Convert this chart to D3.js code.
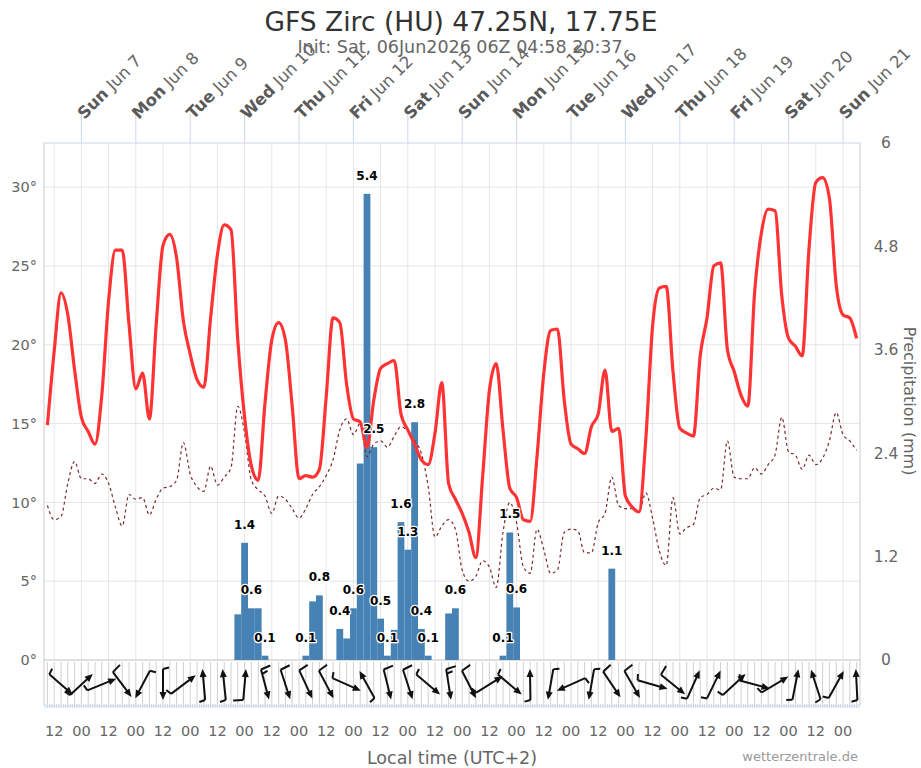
<!DOCTYPE html>
<meta charset="utf-8">
<style>
    body { margin: 0; background: #fff; }
    text { font-family: "DejaVu Sans", sans-serif; }
</style>
<body>
<script src="https://cdn.jsdelivr.net/npm/d3@7"></script>
<script>
    // first forecast step, local time (UTC+2) stored as UTC so the browser zone does not matter
    const firstStep = Date.UTC(2026, 5, 6, 9)
    const stepHours = 3

    // 2 m temperature (°C), every 3 h
    const temperature = [
        14.9, 19.6, 23.3, 21.9, 18.4, 15.4, 14.5, 13.7, 16.8, 22.8,
        26.0, 26.0, 21.3, 17.2, 18.2, 15.3, 21.3, 26.3, 27.0, 25.5,
        21.5, 19.4, 17.8, 17.3, 21.7, 25.7, 27.6, 27.3, 20.3, 15.4,
        12.3, 11.4, 16.3, 20.3, 21.4, 20.3, 16.1, 11.5, 11.7, 11.6,
        12.1, 16.7, 21.7, 21.4, 17.5, 15.3, 15.1, 13.5, 16.5, 18.5,
        18.8, 19.0, 15.6, 14.6, 13.7, 12.7, 12.4, 14.4, 17.6, 11.2,
        10.2, 9.3, 8.1, 6.5, 11.6, 17.1, 18.8, 14.6, 10.9, 10.3,
        8.9, 8.8, 12.9, 18.2, 20.9, 21.0, 16.5, 13.7, 13.4, 13.1,
        14.8, 15.6, 18.4, 14.5, 14.7, 10.4, 9.7, 9.4, 14.0, 21.2,
        23.6, 23.7, 18.3, 14.7, 14.4, 14.2, 19.3, 21.7, 25.0, 25.2,
        19.7, 18.3, 16.8, 16.1, 23.3, 27.1, 28.6, 28.5, 23.1, 20.4,
        19.9, 19.3, 26.1, 30.3, 30.6, 29.3, 23.8, 21.9, 21.7, 20.4
    ]

    // dew point (°C)
    const dewpoint = [
        9.8, 8.9, 9.1, 11.2, 12.6, 11.5, 11.5, 11.2, 11.8, 11.2,
        9.7, 8.5, 10.5, 10.2, 10.3, 9.2, 10.2, 10.9, 11.0, 11.4,
        13.8, 11.8, 11.0, 10.7, 12.3, 11.1, 11.6, 12.2, 16.1, 14.4,
        11.4, 10.8, 10.4, 9.3, 10.4, 10.2, 9.6, 9.0, 9.6, 10.5,
        11.0, 11.7, 12.7, 14.6, 15.3, 14.3, 15.0, 12.9, 13.7, 13.9,
        13.5, 14.2, 14.8, 14.5, 13.9, 13.1, 11.0, 7.8, 8.5, 8.9,
        8.3, 5.7, 5.0, 5.3, 6.3, 5.9, 4.6, 8.1, 10.0, 8.7,
        5.9, 5.5, 8.3, 7.0, 5.5, 5.7, 8.1, 8.3, 8.2, 6.8,
        6.8, 8.7, 9.3, 11.6, 9.8, 9.6, 9.6, 9.4, 10.6, 9.0,
        6.9, 6.0, 10.3, 8.0, 8.4, 8.6, 10.3, 10.5, 10.9, 10.8,
        13.9, 11.6, 11.5, 11.5, 12.2, 11.8, 12.4, 13.0, 15.4, 13.2,
        13.0, 12.1, 13.0, 12.4, 12.8, 13.9, 15.7, 14.3, 13.9, 13.3
    ]

    // precipitation (mm / 3 h)
    const precipitation = [
        0, 0, 0, 0, 0, 0, 0, 0, 0, 0,
        0, 0, 0, 0, 0, 0, 0, 0, 0, 0,
        0, 0, 0, 0, 0, 0, 0, 0, 0.53, 1.36,
        0.6, 0.6, 0.05, 0, 0, 0, 0, 0, 0.05, 0.68,
        0.75, 0, 0, 0.36, 0.25, 0.6, 2.28, 5.41, 2.47, 0.48,
        0.05, 0.35, 1.6, 1.28, 2.76, 0.36, 0.05, 0, 0, 0.54,
        0.6, 0, 0, 0, 0, 0, 0, 0.05, 1.48, 0.61,
        0, 0, 0, 0, 0, 0, 0, 0, 0, 0,
        0, 0, 0, 1.06, 0, 0, 0, 0, 0, 0,
        0, 0, 0, 0, 0, 0, 0, 0, 0, 0,
        0, 0, 0, 0, 0, 0, 0, 0, 0, 0,
        0, 0, 0, 0, 0, 0, 0, 0, 0, 0
    ]
    // bars whose value label is visible (others hidden by overlap)
    const labelledBars = [29, 30, 32, 38, 40, 43, 45, 47, 48, 49, 50, 52, 53, 54, 55, 56, 60, 67, 68, 69, 83]

    // wind, every third step starting at step 2: direction it blows from (deg) and speed (kt)
    const windFirst = 2
    const windEvery = 3
    const windDir = [
        311, 227, 248, 323, 28, 0, 233, 175, 174, 185,
        345, 342, 335, 332, 294, 151, 346, 342, 310, 351,
        333, 238, 310, 179, 10, 66, 10, 326, 330, 286,
        309, 204, 206, 227, 285, 239, 191, 162, 209, 177
    ]
    const windSpeed = [
        5, 5, 5, 10, 5, 5, 5, 5, 5, 10,
        15, 10, 10, 10, 5, 5, 10, 10, 5, 15,
        10, 5, 5, 5, 5, 5, 5, 10, 10, 5,
        10, 5, 5, 5, 5, 5, 5, 5, 5, 5
    ]

    const tempTicks = [0, 5, 10, 15, 20, 25, 30]
    const precipTicks = [0, 1.2, 2.4, 3.6, 4.8, 6]

    const hour = 3600e3
    const times = temperature.map((_, i) => new Date(firstStep + i * stepHours * hour))

    const width = 921, height = 768
    const plot = {left: 44, right: 860, top: 143, bottom: 660}
    const wind = {top: 662, bottom: 705}

    const x = d3.scaleUtc()
        .domain([new Date(+times[0] - 1.5 * hour), new Date(+times[times.length - 1] + 1.5 * hour)])
        .range([plot.left, plot.right])
    const yT = d3.scaleLinear().domain([0, 32.8]).range([plot.bottom, plot.top])
    const yP = d3.scaleLinear().domain([0, 6]).range([plot.bottom, plot.top])

    const svg = d3.select("body").append("svg")
        .attr("width", width)
        .attr("height", height)

    // titles
    svg.append("text")
        .attr("x", 461).attr("y", 31)
        .attr("text-anchor", "middle")
        .style("font-size", "26.5px").style("fill", "#333")
        .text("GFS Zirc (HU) 47.25N, 17.75E")
    svg.append("text")
        .attr("x", 460).attr("y", 53)
        .attr("text-anchor", "middle")
        .style("font-size", "17.5px").style("fill", "#666")
        .text("Init: Sat, 06Jun2026 06Z 04:58 20:37")

    // grid
    svg.append("g").selectAll("line")
        .data(tempTicks)
        .join("line")
        .attr("x1", plot.left).attr("x2", plot.right)
        .attr("y1", d => yT(d)).attr("y2", d => yT(d))
        .attr("stroke", "#e6e6e6")

    const halfDays = d3.utcHour.every(12).range(x.domain()[0], x.domain()[1])
    svg.append("g").selectAll("line")
        .data(halfDays)
        .join("line")
        .attr("x1", d => x(d)).attr("x2", d => x(d))
        .attr("y1", plot.top).attr("y2", plot.bottom)
        .attr("stroke", "#e6e6e6")

    // wind pane grid
    svg.append("g").selectAll("line")
        .data(times)
        .join("line")
        .attr("x1", d => x(d)).attr("x2", d => x(d))
        .attr("y1", wind.top).attr("y2", wind.bottom)
        .attr("stroke", "#d0d0d0")

    const hours = d3.utcHour.every(1).range(x.domain()[0], x.domain()[1])
    svg.append("g").selectAll("line")
        .data(hours)
        .join("line")
        .attr("x1", d => x(d)).attr("x2", d => x(d))
        .attr("y1", wind.bottom - 1).attr("y2", wind.bottom + 3)
        .attr("stroke", "#ccd6eb")
    svg.append("line")
        .attr("x1", plot.left).attr("x2", plot.right)
        .attr("y1", wind.bottom + 1).attr("y2", wind.bottom + 1)
        .attr("stroke", "#ccd6eb")

    // borders
    svg.append("line")
        .attr("x1", plot.left).attr("x2", plot.left)
        .attr("y1", plot.top).attr("y2", wind.bottom)
        .attr("stroke", "#ccc")
    svg.append("line")
        .attr("x1", plot.right).attr("x2", plot.right)
        .attr("y1", plot.top).attr("y2", wind.bottom)
        .attr("stroke", "#ccc")
    svg.append("line")
        .attr("x1", plot.left).attr("x2", plot.right)
        .attr("y1", plot.bottom).attr("y2", plot.bottom)
        .attr("stroke", "#ccc")

    // top day axis
    const days = d3.utcDay.range(x.domain()[0], x.domain()[1]).filter(d => +d > +x.domain()[0])
    const topAxis = svg.append("g")
    topAxis.append("line")
        .attr("x1", plot.left).attr("x2", plot.right)
        .attr("y1", plot.top).attr("y2", plot.top)
        .attr("stroke", "#ccd6eb")
    topAxis.selectAll(".tick")
        .data(days)
        .join("line")
        .attr("x1", d => x(d)).attr("x2", d => x(d))
        .attr("y1", 114).attr("y2", plot.top)
        .attr("stroke", "#ccd6eb")
    const dayLabels = topAxis.selectAll(".day")
        .data(days)
        .join("text")
        .attr("transform", d => `translate(${x(d) + 3},${120}) rotate(-45)`)
        .style("font-size", "16.5px").style("fill", "#666")
    dayLabels.append("tspan")
        .style("font-weight", "bold").style("fill", "#5a5a5a")
        .text(d3.utcFormat("%a"))
    dayLabels.append("tspan")
        .text(d3.utcFormat(" %b %-d"))

    // bottom hour labels
    svg.append("g").selectAll("text")
        .data(halfDays)
        .join("text")
        .attr("x", d => x(d)).attr("y", 736)
        .attr("text-anchor", "middle")
        .style("font-size", "14.5px").style("fill", "#666")
        .text(d3.utcFormat("%H"))

    svg.append("text")
        .attr("x", (plot.left + plot.right) / 2).attr("y", 764)
        .attr("text-anchor", "middle")
        .style("font-size", "17.5px").style("fill", "#666")
        .text("Local time (UTC+2)")
    svg.append("text")
        .attr("x", 858).attr("y", 761)
        .attr("text-anchor", "end")
        .style("font-size", "13px").style("fill", "#999")
        .text("wetterzentrale.de")

    // left axis
    const gLeft = svg.append("g")
        .attr("transform", `translate(${plot.left},0)`)
        .call(d3.axisLeft(yT).tickValues(tempTicks).tickFormat(d => d + "°").tickSize(0).tickPadding(7))
    gLeft.select(".domain").remove()
    gLeft.selectAll("text").style("font-size", "14.5px").style("fill", "#666").style("font-family", "DejaVu Sans")

    // right axis
    const gRight = svg.append("g")
        .attr("transform", `translate(${plot.right},0)`)
        .call(d3.axisRight(yP).tickValues(precipTicks).tickFormat(d => String(d)).tickSize(0))
    gRight.select(".domain").remove()
    gRight.selectAll("text")
        .attr("x", 26).attr("text-anchor", "middle")
        .style("font-size", "15.5px").style("fill", "#666").style("font-family", "DejaVu Sans")

    svg.append("text")
        .attr("transform", "translate(904,401) rotate(90)")
        .attr("text-anchor", "middle")
        .style("font-size", "16px").style("fill", "#666")
        .text("Precipitation (mm)")

    // precipitation bars
    const barW = x(new Date(+times[1])) - x(times[0])
    svg.append("g").selectAll("rect")
        .data(precipitation.map((v, i) => ({v, t: times[i]})).filter(d => d.v > 0))
        .join("rect")
        .attr("x", d => x(d.t) - barW / 2)
        .attr("width", barW)
        .attr("y", d => yP(d.v))
        .attr("height", d => yP(0) - yP(d.v))
        .attr("fill", "#4682b4")

    // temperature and dew point
    const line = d3.line()
        .x((d, i) => x(times[i]))
        .y(d => yT(d))
        .curve(d3.curveMonotoneX)

    svg.append("path")
        .datum(dewpoint)
        .attr("d", line)
        .attr("fill", "none")
        .attr("stroke", "#7b2a2a")
        .attr("stroke-width", 1.2)
        .attr("stroke-dasharray", "3,3")

    svg.append("path")
        .datum(temperature)
        .attr("d", line)
        .attr("fill", "none")
        .attr("stroke", "#ff3333")
        .attr("stroke-width", 3.2)
        .attr("stroke-linejoin", "round")

    // bar value labels
    svg.append("g").selectAll("text")
        .data(labelledBars)
        .join("text")
        .attr("x", i => x(times[i]))
        .attr("y", i => yP(precipitation[i]) - 14)
        .attr("text-anchor", "middle")
        .style("font-size", "12px").style("font-weight", "bold")
        .style("fill", "#000")
        .style("stroke", "#fff").style("stroke-width", 2.5)
        .style("paint-order", "stroke").style("stroke-linejoin", "round")
        .text(i => (Math.round(precipitation[i] * 10) / 10).toFixed(1))

    // wind arrows with barbs at the tail
    const arrowLen = 31
    const cy = (wind.top + wind.bottom) / 2 + 1
    const gWind = svg.append("g")
        .attr("stroke", "#111").attr("fill", "#111")
    windDir.forEach((dir, j) => {
        const t = times[windFirst + j * windEvery]
        const cx = x(t)
        const to = (dir + 180) * Math.PI / 180
        const dx = Math.sin(to), dy = -Math.cos(to)
        const px = dy, py = -dx
        const tail = [cx - dx * arrowLen / 2, cy - dy * arrowLen / 2]
        const head = [cx + dx * arrowLen / 2, cy + dy * arrowLen / 2]
        gWind.append("line")
            .attr("x1", tail[0]).attr("y1", tail[1])
            .attr("x2", head[0] - dx * 4).attr("y2", head[1] - dy * 4)
            .attr("stroke-width", 2)
        gWind.append("path")
            .attr("d", `M${head[0]},${head[1]}L${head[0] - dx * 8 + px * 3.5},${head[1] - dy * 8 + py * 3.5}L${head[0] - dx * 8 - px * 3.5},${head[1] - dy * 8 - py * 3.5}Z`)
            .attr("stroke", "none")
        let speed = windSpeed[j]
        let pos = 0
        while (speed > 0) {
            const len = speed >= 10 ? 10 : 6
            const bx = tail[0] + dx * pos, by = tail[1] + dy * pos
            gWind.append("line")
                .attr("x1", bx).attr("y1", by)
                .attr("x2", bx + px * len - dx * 1.5).attr("y2", by + py * len - dy * 1.5)
                .attr("stroke-width", 2)
            speed -= 10
            pos += 4.5
        }
    })
</script>
</body>
